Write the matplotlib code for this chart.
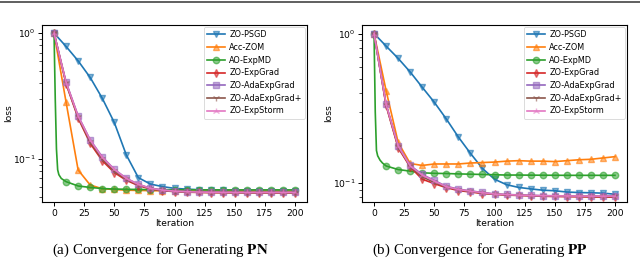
import matplotlib
matplotlib.use("Agg")
import matplotlib.pyplot as plt
from matplotlib.colors import to_rgba
from matplotlib.lines import Line2D

# ---------------- data ----------------
iters = [0, 10, 20, 30, 40, 50, 60, 70, 80, 90, 100, 110, 120, 130, 140, 150, 160, 170, 180, 190, 200]
green_iters_pn = [0, 1, 2, 3, 4, 6, 10, 20, 30, 40, 50, 60, 70, 80, 90, 100, 110, 120, 130, 140, 150, 160, 170, 180, 190, 200]
green_iters_pp = [0, 1, 2, 3, 5, 7, 10, 20, 30, 40, 50, 60, 70, 80, 90, 100, 110, 120, 130, 140, 150, 160, 170, 180, 190, 200]

labels = ["ZO-PSGD", "Acc-ZOM", "AO-ExpMD", "ZO-ExpGrad", "ZO-AdaExpGrad", "ZO-AdaExpGrad+", "ZO-ExpStorm"]

# (a) PN
pn_psgd = [1.0, 0.783, 0.602, 0.444, 0.304, 0.195, 0.1076, 0.071, 0.0632, 0.0603, 0.0584, 0.0576, 0.0570,
           0.0566, 0.0563, 0.0560, 0.0558, 0.0556, 0.0555, 0.0554, 0.0553]
pn_acc = [1.0, 0.282, 0.0817, 0.0621, 0.0580, 0.0572, 0.0565, 0.0562, 0.0560, 0.0558, 0.0557, 0.0556, 0.0556,
          0.0555, 0.0555, 0.0555, 0.0555, 0.0555, 0.0555, 0.0555, 0.0555]
pn_aomd = [1.0, 0.30, 0.12, 0.082, 0.075, 0.070, 0.066, 0.061, 0.0594, 0.0582, 0.0577, 0.0574, 0.0572, 0.0571,
           0.0570, 0.0569, 0.0569, 0.0568, 0.0568, 0.0568, 0.0568, 0.0568, 0.0568, 0.0568, 0.0568, 0.0568]
pn_expgrad = [1.0, 0.395, 0.211, 0.133, 0.097, 0.078, 0.0677, 0.0614, 0.0578, 0.0560, 0.0550, 0.0545, 0.0542,
              0.0540, 0.0539, 0.0538, 0.0538, 0.0537, 0.0537, 0.0537, 0.0537]
pn_ada = [1.0, 0.407, 0.220, 0.142, 0.104, 0.0828, 0.0702, 0.0629, 0.0585, 0.0567, 0.0556, 0.0550, 0.0547,
          0.0545, 0.0544, 0.0543, 0.0543, 0.0543, 0.0543, 0.0543, 0.0543]
pn_adaplus = [1.0, 0.400, 0.215, 0.137, 0.100, 0.080, 0.0690, 0.0622, 0.0582, 0.0563, 0.0553, 0.0547, 0.0544,
              0.0542, 0.0541, 0.0540, 0.0540, 0.0540, 0.0540, 0.0540, 0.0540]
pn_storm = [1.0, 0.405, 0.219, 0.141, 0.103, 0.0825, 0.0700, 0.0628, 0.0584, 0.0566, 0.0555, 0.0549, 0.0546,
            0.0544, 0.0543, 0.0542, 0.0542, 0.0542, 0.0542, 0.0542, 0.0542]

# (b) PP
pp_psgd = [1.0, 0.824, 0.682, 0.553, 0.437, 0.347, 0.268, 0.203, 0.158, 0.125, 0.106, 0.0974, 0.0934,
           0.0913, 0.0895, 0.0887, 0.0870, 0.0863, 0.0860, 0.0855, 0.0841]
pp_acc = [1.0, 0.415, 0.187, 0.135, 0.131, 0.134, 0.134, 0.134, 0.136, 0.137, 0.138, 0.140, 0.141,
          0.140, 0.140, 0.139, 0.141, 0.143, 0.144, 0.147, 0.150]
pp_aomd = [1.0, 0.30, 0.165, 0.152, 0.142, 0.136, 0.130, 0.123, 0.120, 0.117, 0.116, 0.1157, 0.1150, 0.1145,
           0.1140, 0.1135, 0.1130, 0.1130, 0.1128, 0.1127, 0.1126, 0.1125, 0.1125, 0.1125, 0.1125, 0.1125]
pp_expgrad = [1.0, 0.330, 0.172, 0.128, 0.106, 0.099, 0.093, 0.089, 0.087, 0.085, 0.084, 0.083, 0.0825,
              0.0820, 0.0815, 0.0812, 0.0810, 0.0808, 0.0806, 0.0805, 0.0804]
pp_ada = [1.0, 0.337, 0.178, 0.131, 0.114, 0.104, 0.095, 0.091, 0.0885, 0.0864, 0.0845, 0.0838, 0.0832,
          0.0826, 0.0823, 0.0821, 0.0820, 0.0819, 0.0818, 0.0818, 0.0818]
pp_adaplus = [1.0, 0.333, 0.175, 0.129, 0.110, 0.101, 0.094, 0.090, 0.0878, 0.0857, 0.0840, 0.0833, 0.0828,
              0.0823, 0.0819, 0.0816, 0.0815, 0.0814, 0.0813, 0.0812, 0.0812]
pp_storm = [1.0, 0.336, 0.177, 0.130, 0.113, 0.103, 0.0945, 0.0905, 0.0882, 0.0861, 0.0843, 0.0836, 0.0830,
            0.0825, 0.0822, 0.0820, 0.0819, 0.0818, 0.0817, 0.0817, 0.0817]

colors = ["#1f77b4", "#ff7f0e", "#2ca02c", "#d62728", "#9467bd", "#8c564b", "#e377c2"]
markers = ["v", "^", "o", "d", "s", "1", "2"]
msizes = [4.6, 4.6, 4.6, 4.2, 4.6, 4.8, 4.8]

fig = plt.figure(figsize=(6.4, 2.6), dpi=100)
W, H = 640, 260

def ax_rect(l, t, r, b):
    return [l / W, 1 - b / H, (r - l) / W, (b - t) / H]

ax1 = fig.add_axes(ax_rect(42, 25, 307, 202))
ax2 = fig.add_axes(ax_rect(362, 25, 627, 202))

def draw(ax, series, ylim):
    for i, (xs, ys) in enumerate(series):
        me = [k for k, x in enumerate(xs) if x % 10 == 0]
        c = colors[i]
        ax.plot(xs, ys, color=c, lw=1.2, marker=markers[i], markersize=msizes[i],
                markevery=me, markerfacecolor=to_rgba(c, 0.55),
                markeredgecolor=to_rgba(c, 0.6), markeredgewidth=1.0, label=labels[i])
    ax.set_yscale("log")
    ax.set_ylim(*ylim)
    ax.set_xlim(-10, 210)
    ax.set_xticks([0, 25, 50, 75, 100, 125, 150, 175, 200])
    ax.tick_params(labelsize=6.6, length=3, width=0.7, pad=2)
    ax.tick_params(which="minor", length=2, width=0.5)
    ax.set_xlabel("Iteration", fontsize=6.6, labelpad=1)
    ax.set_ylabel("loss", fontsize=6.6, labelpad=-0.5)
    for s in ax.spines.values():
        s.set_linewidth(0.8)
    leg = ax.legend(loc="upper right", fontsize=5.9, handlelength=2.2, labelspacing=0.45,
                    borderpad=0.4, handletextpad=0.5, framealpha=0.8, edgecolor="#cccccc",
                    borderaxespad=0.25)
    leg.get_frame().set_linewidth(0.6)

draw(ax1, [(iters, pn_psgd), (iters, pn_acc), (green_iters_pn, pn_aomd), (iters, pn_expgrad),
           (iters, pn_ada), (iters, pn_adaplus), (iters, pn_storm)], (0.0455, 1.16))
draw(ax2, [(iters, pp_psgd), (iters, pp_acc), (green_iters_pp, pp_aomd), (iters, pp_expgrad),
           (iters, pp_ada), (iters, pp_adaplus), (iters, pp_storm)], (0.0746, 1.14))

serif = ["Liberation Serif", "DejaVu Serif"]
fig.text(160 / W, 1 - 250 / H, r"(a) Convergence for Generating $\mathbf{PN}$", ha="center", va="center",
         fontsize=10.8, family=serif, math_fontfamily="stix")
fig.text(480 / W, 1 - 250 / H, r"(b) Convergence for Generating $\mathbf{PP}$", ha="center", va="center",
         fontsize=10.8, family=serif, math_fontfamily="stix")

fig.add_artist(Line2D([0, 1], [1 - 1.8 / H, 1 - 1.8 / H], transform=fig.transFigure,
                      color="#444444", lw=1.2))

fig.savefig("out.png", dpi=100)
